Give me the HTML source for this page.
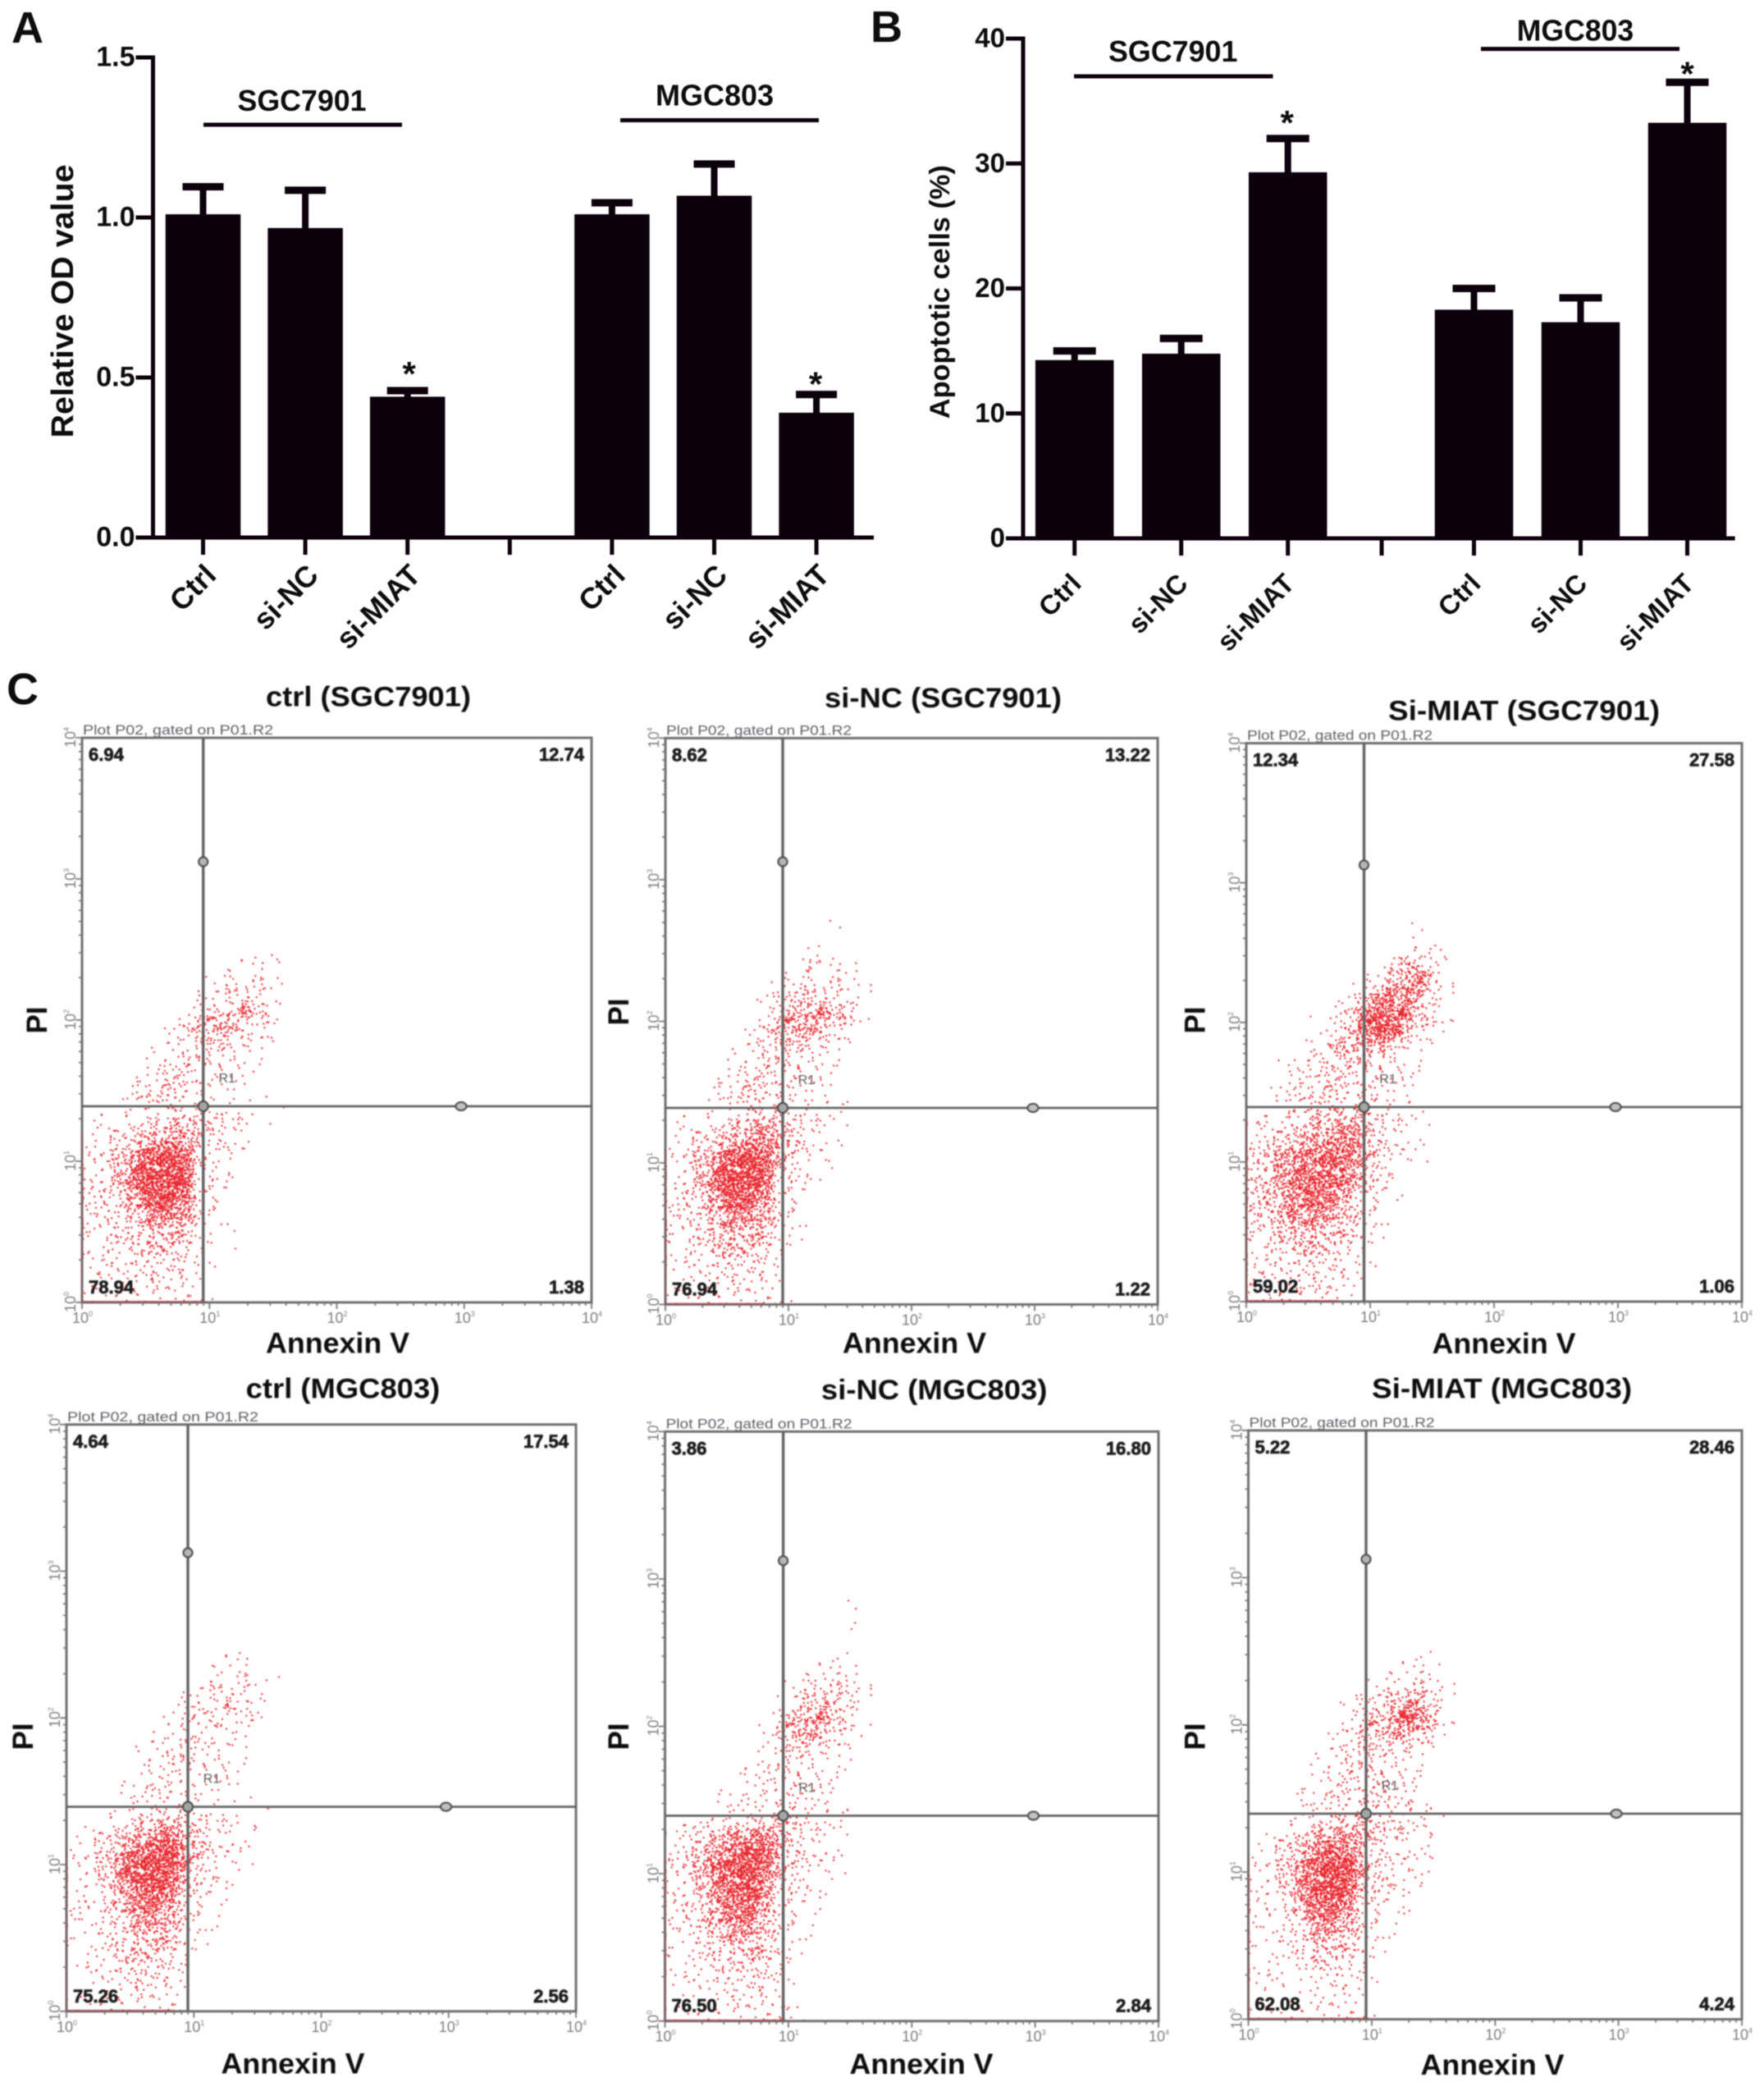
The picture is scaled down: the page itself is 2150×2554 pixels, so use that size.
<!DOCTYPE html>
<html lang="en">
<head>
<meta charset="utf-8">
<title>MIAT knockdown: OD value, apoptosis and flow cytometry</title>
<style>
html,body{margin:0;padding:0;background:#fff;}
svg{display:block;width:2150px;height:2554px;background:#fff;}
text{font-family:"Liberation Sans",Arial,sans-serif;}
</style>
</head>
<body>
<svg id="figure" xmlns="http://www.w3.org/2000/svg" width="2150" height="2554" viewBox="0 0 2150 2554">
  <defs>
    <filter id="soft" filterUnits="userSpaceOnUse" x="0" y="0" width="2150" height="2554"><feGaussianBlur stdDeviation="0.75"/></filter>
    <filter id="softer" filterUnits="userSpaceOnUse" x="0" y="0" width="2150" height="2554"><feGaussianBlur stdDeviation="0.6"/></filter>
  </defs>
  <g filter="url(#softer)">
    <text x="14" y="52" font-size="54" font-weight="700" fill="#111">A</text>
    <text x="1061" y="51" font-size="54" font-weight="700" fill="#111">B</text>
    <text x="8" y="858" font-size="54" font-weight="700" fill="#111">C</text>
  </g>
</svg>
<script>
/* ---------- Panel A data ---------- */
const categories = ['Ctrl', 'si-NC', 'si-MIAT', '', 'Ctrl', 'si-NC', 'si-MIAT'];
const odValues = [1.01, 0.967, 0.44, null, 1.01, 1.068, 0.39];
const odErrors = [0.086, 0.118, 0.019, null, 0.036, 0.099, 0.057];
const odTicks = [0, 0.5, 1, 1.5];
const odTickLabels = ['0.0', '0.5', '1.0', '1.5'];

/* ---------- Panel B data ---------- */
const apoptosisValues = [14.27, 14.78, 29.3, null, 18.3, 17.3, 33.26];
const apoptosisErrors = [0.73, 1.22, 2.7, null, 1.7, 1.95, 3.24];
const apoptosisTicks = [0, 10, 20, 30, 40];
const apoptosisTickLabels = ['0', '10', '20', '30', '40'];

/* ---------- Panel C data: quadrant percentages [UL, UR, LL, LR] ---------- */
const quadrantsCtrlSgc = ['6.94', '12.74', '78.94', '1.38'];
const quadrantsNcSgc = ['8.62', '13.22', '76.94', '1.22'];
const quadrantsMiatSgc = ['12.34', '27.58', '59.02', '1.06'];
const quadrantsCtrlMgc = ['4.64', '17.54', '75.26', '2.56'];
const quadrantsNcMgc = ['3.86', '16.80', '76.50', '2.84'];
const quadrantsMiatMgc = ['5.22', '28.46', '62.08', '4.24'];
const decadeExponents = ['0', '1', '2', '3', '4'];

/* Event density, level 0-9 per 0.1-decade bin.
   Rows run from PI decade 2.8 (top) to 0.0 (bottom); columns from Annexin V decade 0.0 to 1.7. */
const densityCtrlSgc = [
'000000000000000000','000000000000000000','000000000000000000','000000000000000000',
'000000000000010100','000000000000111100','000000000012332100','000000000122333100',
'000000001244564100','000000013556532100','000000012344322100','000000123332211000',
'000001233221110000','000012333321100000','000123443211100100','001112233222110000',
'011223344543211000','012345666532210000','122468998422100000','223579999421100000',
'323579999421100000','323468998421000000','223356887321000000','223345665211000000',
'122334554210100000','122233443110000000','112223332110000000','101122322100000000',
'111222222110000000'];
const densityNcSgc = [
'000000000000000000','000000000000000000','000000000000001000','000000000000100000',
'000000000001110000','000000000012212110','000000000122332100','000000001234433210',
'000000001356665310','000000013566653100','000000013444322100','000000123332221000',
'000001223322110000','000012333321110000','000112344322111000','001111233322211000',
'011223456543211000','012345677653211000','113468998642110000','113579999532110000',
'123579998421100000','123468987421000000','223457776321000000','223356665211000000',
'212345554211000000','212234443110000000','101223332100000000','101122221100000000',
'011222222110000000'];
const densityMiatSgc = [
'000000000000000000','000000000000000000','000000000000001000','000000000000011100',
'000000000000233210','000000000013467310','000000000124676310','000000001357775310',
'000000013589874210','000000124689863210','000001135666421100','000012244443211000',
'000112333322211000','000122333321110000','001223443332110000','011233444432211000',
'112334556643211000','123456677743211000','334677888653211000','345678887642100000',
'345678887632100000','345678876321100000','334677765321000000','234566654321000000',
'223445543211000000','212334432110000000','312223332110000000','211122221100000000',
'322333321000000000'];
const densityCtrlMgc = [
'000000000000000000','000000000000000000','000000000000000000','000000000000000000',
'000000000000010000','000000000000121000','000000000001222110','000000000122333100',
'000000001233332200','000000001232322000','000000012332221000','000000123322211000',
'000000122321210000','000001222211110000','000011223221100100','000112333322110000',
'001123456543221100','012356789754221000','112468999853211000','122469999742210000',
'112357998632110000','122346887521100000','121345776421100000','111234665321000000',
'111234554211000000','011234443210000000','001223432100000000','000112321100000000',
'111222222100000000'];
const densityNcMgc = [
'000000000000000100','000000000000000000','000000000000000100','000000000000000000',
'000000000000011000','000000000000122110','000000000012343310','000000000013454310',
'000000000246664100','000000001356653210','000000001233322100','000000012232211100',
'000000112322211000','000001112222111000','000011222332211000','001122333443221100',
'113456677643211000','123567899643221000','224589998643211000','223578997532110000',
'223468896421110000','123457886421100000','113456775321100000','112345654211000000',
'211233454321000000','111223343210000000','101122332210000000','001112222210000000',
'111222222221000000'];
const densityMiatMgc = [
'000000000000000000','000000000000000000','000000000000000000','000000000000000000',
'000000000000011000','000000000000122100','000000000012233210','000000001233566310',
'000000001355797410','000000012455665310','000000013433332100','000000123332221000',
'000001123332211000','000011223333211000','000012233333221100','000112334433322100',
'001234566654321100','012356887532211100','112468999743221100','212468999643221000',
'212358998532110000','212347887421110000','111235776321100000','211234654321000000',
'111123543211000000','211112332210000000','211111222110000000','100011121100000000',
'211122222210000000'];
/* Rightward extent of the pile-up on the bottom axis and top of the pile-up on the left axis, in decades */
const floorEndDecades = [0.95, 0.8, 0.75, 0.85, 0.95, 0.95];
const wallTopDecades = [1.2, 1.1, 1.3, 1.1, 1.1, 1.1];

/* ---------- Layout (not data) ---------- */
const flowLayouts = [
  {key:'ctrl-sgc7901', title:'ctrl (SGC7901)', left:100, right:721, top:899, bottom:1587, gateX:247.7, gateY:1348, handleTop:1050, handleRight:562, titleX:449, titleY:848, titleW:250, annexX:411.5, annexY:1635.5, piX:45, piY:1243, headW:232},
  {key:'si-nc-sgc7901', title:'si-NC (SGC7901)', left:811, right:1411, top:899.4, bottom:1589.5, gateX:954, gateY:1350, handleTop:1050, handleRight:1259, titleX:1149.5, titleY:849.5, titleW:289, annexX:1114.5, annexY:1635.5, piX:754, piY:1233, headW:226},
  {key:'si-miat-sgc7901', title:'Si-MIAT (SGC7901)', left:1519, right:2123, top:905.6, bottom:1586, gateX:1662.5, gateY:1349, handleTop:1054, handleRight:1969, titleX:1857.5, titleY:865, titleW:331, annexX:1833, annexY:1636, piX:1456.5, piY:1243, headW:226},
  {key:'ctrl-mgc803', title:'ctrl (MGC803)', left:81, right:702, top:1735.8, bottom:2450.8, gateX:229, gateY:2201.6, handleTop:1892, handleRight:543.6, titleX:418, titleY:1691, titleW:236.6, annexX:357, annexY:2513.5, piX:28, piY:2116, headW:233},
  {key:'si-nc-mgc803', title:'si-NC (MGC803)', left:810.5, right:1412, top:1744.4, bottom:2462.7, gateX:954.6, gateY:2212.5, handleTop:1901.7, handleRight:1259.5, titleX:1138.7, titleY:1692.5, titleW:275.5, annexX:1123, annexY:2514, piX:754, piY:2116, headW:227},
  {key:'si-miat-mgc803', title:'Si-MIAT (MGC803)', left:1521.5, right:2123, top:1743, bottom:2460.5, gateX:1665, gateY:2210, handleTop:1900, handleRight:1970, titleX:1830.5, titleY:1691, titleW:317, annexX:1819, annexY:2515, piX:1456.5, piY:2116, headW:226}
];
const flowDensities = [densityCtrlSgc, densityNcSgc, densityMiatSgc, densityCtrlMgc, densityNcMgc, densityMiatMgc];
const flowQuadrants = [quadrantsCtrlSgc, quadrantsNcSgc, quadrantsMiatSgc, quadrantsCtrlMgc, quadrantsNcMgc, quadrantsMiatMgc];
const levelDots = [0, 2, 4, 7, 11, 17, 26, 38, 56, 85];

/* ---------- Helpers ---------- */
const NS = 'http://www.w3.org/2000/svg';
const root = document.getElementById('figure');
function make(tag, attrs, parent) {
  const node = document.createElementNS(NS, tag);
  for (const k in attrs) node.setAttribute(k, attrs[k]);
  parent.appendChild(node);
  return node;
}
function makeText(str, attrs, parent) {
  const node = make('text', attrs, parent);
  node.textContent = str;
  return node;
}
const INK = '#0c0608';

/* ---------- Bar panels ---------- */
function drawBarPanel(p) {
  const g = make('g', {filter: 'url(#softer)'}, root);
  
  
  const y = function (v) { return p.zeroY - v * p.pxPerUnit; };

  p.values.forEach(function (v, i) {
    const cx = p.xOf(i);
    if (v !== null) {
      const bar = make('rect', {x: cx - p.barW / 2, y: y(v), width: p.barW, height: p.zeroY - y(v), fill: INK}, g);
      
      
      const tip = y(v + p.errors[i]);
      const stem = make('rect', {x: cx - 4, y: tip, width: 8, height: y(v) - tip + 1, fill: INK}, g);
      
      
      const cap = make('rect', {x: cx - p.capW / 2, y: tip - 4.5, width: p.capW, height: 9, fill: INK}, g);
      
      
      if (p.categories[i] === 'si-MIAT') {
        const lift = i < 3 ? p.starLiftFirst : p.starLiftSecond;
        const dx = i < 3 ? p.starDxFirst : p.starDxSecond;
        const star = makeText('*', {x: cx + dx, y: tip - lift + 23, 'font-size': 42, 'font-weight': 700, 'text-anchor': 'middle', fill: '#111'}, g);
        
        
      }
    }
    const tick = make('line', {x1: cx, x2: cx, y1: p.zeroY, y2: p.zeroY + 21, stroke: INK, 'stroke-width': 5}, g);
    
    
    if (p.categories[i]) {
      const bx = cx + p.labelDx;
      const lab = makeText(p.categories[i], {x: bx, y: p.labelY, 'font-size': p.labelSize, 'font-weight': 700, 'text-anchor': 'end', fill: '#111', transform: 'rotate(-45 ' + bx + ' ' + p.labelY + ')'}, g);
      
      
    }
  });

  const xAxis = make('line', {x1: p.axisX - 20, x2: p.axisRight, y1: p.zeroY, y2: p.zeroY, stroke: INK, 'stroke-width': 5}, g);
  
  
  const yAxis = make('line', {x1: p.axisX, x2: p.axisX, y1: y(p.ticks[p.ticks.length - 1]) - 2.5, y2: p.zeroY + 2.5, stroke: INK, 'stroke-width': 5}, g);
  
  

  p.ticks.forEach(function (t, i) {
    const tick = make('line', {x1: p.axisX - 21, x2: p.axisX, y1: y(t), y2: y(t), stroke: INK, 'stroke-width': 5}, g);
    
    
    const lab = makeText(p.tickLabels[i], {x: p.axisX - 22, y: y(t) + 10.5, 'font-size': p.tickSize, 'font-weight': 700, 'text-anchor': 'end', fill: '#111'}, g);
    
    
  });

  const title = makeText(p.yTitle, {x: p.yTitleX, y: p.yTitleY, 'font-size': p.yTitleSize, 'font-weight': 700, 'text-anchor': 'middle', fill: '#111', textLength: p.yTitleLen, lengthAdjust: 'spacingAndGlyphs', transform: 'rotate(-90 ' + p.yTitleX + ' ' + p.yTitleY + ')'}, g);
  
  

  p.groups.forEach(function (grp) {
    const rule = make('line', {x1: grp.x1, x2: grp.x2, y1: grp.lineY, y2: grp.lineY, stroke: INK, 'stroke-width': 5}, g);
    
    
    const lab = makeText(grp.name, {x: grp.textX, y: grp.textY, 'font-size': 36, 'font-weight': 700, 'text-anchor': 'middle', fill: '#111', textLength: grp.textW, lengthAdjust: 'spacingAndGlyphs'}, g);
    
    
  });
}

drawBarPanel({
  id: 'a', categories: categories, values: odValues, errors: odErrors, ticks: odTicks, tickLabels: odTickLabels,
  zeroY: 655, pxPerUnit: 390, xOf: function (i) { return 247.5 + i * 124.6; },
  barW: 91.5, capW: 50, axisX: 186.5, axisRight: 1065, tickSize: 34,
  labelDx: 18, labelY: 703, labelSize: 36, starDxFirst: 2, starDxSecond: -1, starLiftFirst: 29, starLiftSecond: 21,
  yTitle: 'Relative OD value', yTitleX: 89, yTitleY: 367, yTitleSize: 38, yTitleLen: 333,
  groups: [
    {name: 'SGC7901', x1: 248, x2: 490, lineY: 152, textX: 368, textY: 135, textW: 157},
    {name: 'MGC803', x1: 756, x2: 998, lineY: 146.5, textX: 871, textY: 128.5, textW: 144}
  ]
});
drawBarPanel({
  id: 'b', categories: categories, values: apoptosisValues, errors: apoptosisErrors, ticks: apoptosisTicks, tickLabels: apoptosisTickLabels,
  zeroY: 656, pxPerUnit: 15.225, xOf: function (i) { return i < 3 ? 1309.7 + i * 130 : (i === 3 ? 1684 : 1796.5 + (i - 4) * 130); },
  barW: 95.5, capW: 52, axisX: 1247, axisRight: 2114.6, tickSize: 33,
  labelDx: 10, labelY: 713, labelSize: 33, starDxFirst: -1, starDxSecond: 0, starLiftFirst: 28, starLiftSecond: 19,
  yTitle: 'Apoptotic cells (%)', yTitleX: 1157, yTitleY: 355.7, yTitleSize: 34, yTitleLen: 309,
  groups: [
    {name: 'SGC7901', x1: 1309, x2: 1551.5, lineY: 93, textX: 1429.7, textY: 75, textW: 157.4},
    {name: 'MGC803', x1: 1805, x2: 2047, lineY: 59.6, textX: 1920, textY: 49.5, textW: 142.5}
  ]
});

/* ---------- Flow cytometry panels ---------- */
function hash01(a, b, c, salt) {
  const s = Math.sin(a * 12.9898 + b * 78.233 + c * 37.719 + salt * 11.13) * 43758.5453;
  return s - Math.floor(s);
}
/* Where a dot sits inside its density bin: spreads past the bin edge so bins do not show as blocks. */
function binSpread(a, b, c, salt) {
  return hash01(a, b, c, salt) + hash01(a, b, c, salt + 5) - 0.5;
}
const binShiftX = -0.6;

function drawFlowPlot(L, rows, quads, floorEnd, wallTop) {
  const g = make('g', {filter: 'url(#soft)'}, root);
  
  
  const xDec = function (d) { return L.left + d * (L.right - L.left) / 4; };
  const yDec = function (d) { return L.bottom - d * (L.bottom - L.top) / 4; };

  /* density bins -> stipple */
  let dots = '';
  rows.forEach(function (row, r) {
    const yBin = rows.length - 1 - r;
    for (let c = 0; c < row.length; c++) {
      const count = levelDots[+row[c]];
      for (let k = 0; k < count; k++) {
        const px = Math.max(L.left, xDec((c + binShiftX + binSpread(c, yBin, k, 1)) * 0.1));
        const py = Math.min(L.bottom - 1, yDec((yBin + binSpread(c, yBin, k, 2)) * 0.1));
        dots += 'M' + px.toFixed(1) + ' ' + py.toFixed(1) + 'h2';
      }
    }
  });
  const cloud = make('path', {d: dots, fill: 'none', stroke: '#e8252d', 'stroke-width': 2}, g);
  
  

  const box = make('rect', {x: L.left, y: L.top, width: L.right - L.left, height: L.bottom - L.top, fill: 'none', stroke: '#6f6f6f', 'stroke-width': 3}, g);
  
  

  const floorPile = make('line', {x1: L.left, x2: xDec(floorEnd), y1: L.bottom - 1, y2: L.bottom - 1, stroke: '#c8222c', 'stroke-width': 2, 'stroke-opacity': 0.45}, g);
  
  
  const wallPile = make('line', {x1: L.left, x2: L.left, y1: yDec(wallTop), y2: L.bottom, stroke: '#c8222c', 'stroke-width': 2, 'stroke-opacity': 0.2}, g);
  
  

  /* log ticks */
  let tx = '', ty = '';
  for (let d = 0; d < 4; d++) {
    for (let k = 1; k <= 9; k++) {
      const pos = d + Math.log10(k);
      const len = k === 1 ? 8 : 4;
      tx += 'M' + xDec(pos).toFixed(1) + ' ' + L.bottom + 'v' + len;
      ty += 'M' + L.left + ' ' + yDec(pos).toFixed(1) + 'h-' + len;
    }
  }
  tx += 'M' + L.right + ' ' + L.bottom + 'v8';
  ty += 'M' + L.left + ' ' + L.top + 'h-8';
  const xt = make('path', {d: tx, stroke: '#777', 'stroke-width': 1.8, fill: 'none'}, g);
  
  
  const yt = make('path', {d: ty, stroke: '#777', 'stroke-width': 1.8, fill: 'none'}, g);
  
  

  decadeExponents.forEach(function (exp, i) {
    const xl = makeText('10', {x: xDec(i) - 12, y: L.bottom + 25, 'font-size': 18, fill: '#7d7d7d'}, g);
    
    
    const xs = make('tspan', {dy: -8, 'font-size': 9}, xl);
    xs.textContent = exp;
    
    
    const ly = yDec(i) + 12, lx = L.left - 8;
    const yl = makeText('10', {x: lx, y: ly, 'font-size': 18, fill: '#7d7d7d', transform: 'rotate(-90 ' + lx + ' ' + ly + ')'}, g);
    
    
    const ys = make('tspan', {dy: -8, 'font-size': 9}, yl);
    ys.textContent = exp;
    
    
  });

  const gateV = make('line', {x1: L.gateX, x2: L.gateX, y1: L.top, y2: L.bottom, stroke: '#626262', 'stroke-width': 3.4}, g);
  
  
  const gateH = make('line', {x1: L.left, x2: L.right, y1: L.gateY, y2: L.gateY, stroke: '#626262', 'stroke-width': 2.8}, g);
  
  

  const h1 = make('circle', {cx: L.gateX, cy: L.handleTop, r: 5.5, fill: '#b5b5b5', stroke: '#4d4d4d', 'stroke-width': 2.2}, g);
  
  
  const h2 = make('circle', {cx: L.gateX, cy: L.gateY, r: 6, fill: '#a5a5a5', stroke: '#4d4d4d', 'stroke-width': 2.2}, g);
  
  
  const h3 = make('ellipse', {cx: L.handleRight, cy: L.gateY, rx: 6.5, ry: 5, fill: '#c0c0c0', stroke: '#4d4d4d', 'stroke-width': 2.2}, g);
  
  

  const head = makeText('Plot P02, gated on P01.R2', {x: L.left + 1, y: L.top - 4, 'font-size': 17, fill: '#5f5f66', textLength: L.headW, lengthAdjust: 'spacingAndGlyphs'}, g);
  
  

  const r1 = makeText('R1', {x: L.gateX + 29, y: L.gateY - 29, 'font-size': 16, 'text-anchor': 'middle', fill: '#555'}, g);
  
  

  const qStyle = {'font-size': 22, 'font-weight': 700, fill: '#1a1a1a', stroke: '#1a1a1a', 'stroke-width': 0.7};
  const q0 = makeText(quads[0], Object.assign({x: L.left + 8, y: L.top + 28}, qStyle), g);
  
  
  const q1 = makeText(quads[1], Object.assign({x: L.right - 9, y: L.top + 28, 'text-anchor': 'end'}, qStyle), g);
  
  
  const q2 = makeText(quads[2], Object.assign({x: L.left + 8, y: L.bottom - 11}, qStyle), g);
  
  
  const q3 = makeText(quads[3], Object.assign({x: L.right - 9, y: L.bottom - 11, 'text-anchor': 'end'}, qStyle), g);
  
  

  const title = makeText(L.title, {x: L.titleX, y: L.titleY + 12.5, 'font-size': 34, 'font-weight': 700, 'text-anchor': 'middle', fill: '#111', textLength: L.titleW, lengthAdjust: 'spacingAndGlyphs'}, g);
  
  

  const ax = makeText('Annexin V', {x: L.annexX, y: L.annexY + 13, 'font-size': 35, 'font-weight': 700, 'text-anchor': 'middle', fill: '#111', textLength: 175, lengthAdjust: 'spacingAndGlyphs'}, g);
  
  

  const bx = L.piX + 12;
  const ay = makeText('PI', {x: bx, y: L.piY, 'font-size': 35, 'font-weight': 700, 'text-anchor': 'middle', fill: '#111', transform: 'rotate(-90 ' + bx + ' ' + L.piY + ')'}, g);
  
  
}

flowLayouts.forEach(function (L, i) {
  drawFlowPlot(L, flowDensities[i], flowQuadrants[i], floorEndDecades[i], wallTopDecades[i]);
});
</script>
</body>
</html>
